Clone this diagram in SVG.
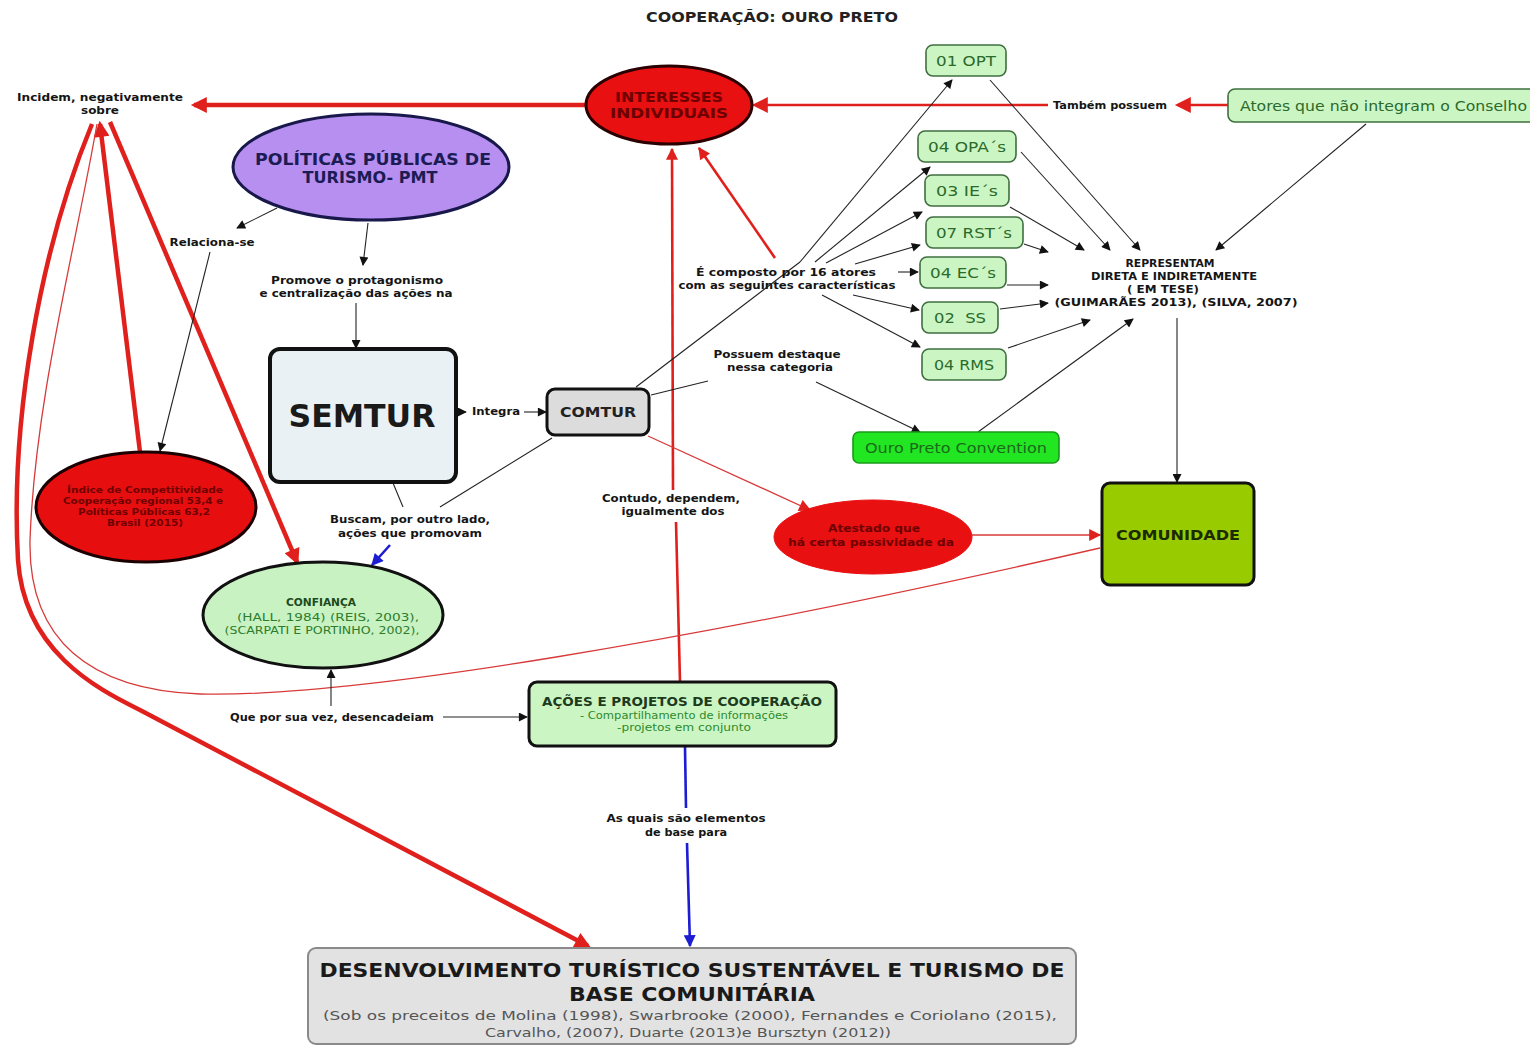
<svg xmlns="http://www.w3.org/2000/svg" width="1530" height="1046" viewBox="0 0 1530 1046">
  <style>
    text { font-family: "DejaVu Sans", Verdana, sans-serif; text-anchor: middle; }
    .lbl { font-size: 10.5px; font-weight: bold; fill: #151515; }
    .title { font-size: 13.5px; font-weight: bold; fill: #222; }
    .redtxt { font-weight: bold; fill: #6e0000; }
    .grn { font-size: 14px; fill: #2a6a2a; }
    .k { stroke: #222; stroke-width: 1.1; fill: none; }
    .r4 { stroke: #e0201c; stroke-width: 4.5; fill: none; }
    .r2 { stroke: #e0201c; stroke-width: 2.6; fill: none; }
    .r1 { stroke: #d83a3a; stroke-width: 1.3; fill: none; }
    .bl { stroke: #1c1cd2; stroke-width: 2.6; fill: none; }
    .gbox { fill: #ccf5c4; stroke: #3f6f3f; stroke-width: 1.6; }
  </style>
  <defs>
    <marker id="ak" viewBox="0 0 10 10" refX="9" refY="5" markerWidth="11" markerHeight="9" markerUnits="userSpaceOnUse" orient="auto">
      <path d="M0,0 L10,5 L0,10 z" fill="#111"/>
    </marker>
    <marker id="ar" viewBox="0 0 10 10" refX="8" refY="5" markerWidth="20" markerHeight="16" markerUnits="userSpaceOnUse" orient="auto">
      <path d="M0,0 L10,5 L0,10 z" fill="#e0201c"/>
    </marker>
    <marker id="ars" viewBox="0 0 10 10" refX="9" refY="5" markerWidth="14" markerHeight="12" markerUnits="userSpaceOnUse" orient="auto">
      <path d="M0,0 L10,5 L0,10 z" fill="#e0201c"/>
    </marker>
    <marker id="ab" viewBox="0 0 10 10" refX="9" refY="5" markerWidth="14" markerHeight="12" markerUnits="userSpaceOnUse" orient="auto">
      <path d="M0,0 L10,5 L0,10 z" fill="#1c1cd2"/>
    </marker>
  </defs>

  <rect width="1530" height="1046" fill="#ffffff"/>

  <text class="title" x="772" y="22" textLength="252" lengthAdjust="spacingAndGlyphs">COOPERAÇÃO: OURO PRETO</text>

  <!-- connectors -->
  <g id="connectors">
    <!-- red links around INTERESSES INDIVIDUAIS -->
    <line class="r4" x1="586" y1="105" x2="194" y2="105" marker-end="url(#ar)"/>
    <line class="r2" x1="1048" y1="105" x2="755" y2="105" marker-end="url(#ar)"/>
    <line class="r2" x1="1228" y1="105" x2="1178" y2="105" marker-end="url(#ar)"/>
    <line class="r2" x1="775" y1="258" x2="699" y2="148" marker-end="url(#ars)"/>
    <line class="r2" x1="680" y1="682" x2="676" y2="522"/>
    <line class="r2" x1="673" y1="490" x2="672" y2="149" marker-end="url(#ars)"/>

    <!-- red links around "Incidem, negativamente sobre" -->
    <line class="r4" x1="140" y1="452" x2="100" y2="124" marker-end="url(#ar)"/>
    <line class="r4" x1="110" y1="122" x2="297" y2="562" marker-end="url(#ar)"/>
    <path class="r4" d="M 92 124 C 40 250, 10 420, 18 560 C 24 650, 95 688, 140 710 L 588 946" marker-end="url(#ar)"/>
    <path class="r1" d="M 97 124 C 75 250, 35 400, 30 540 C 28 640, 90 690, 200 694 C 350 698, 700 640, 1100 548"/>

    <!-- COMTUR / COMUNIDADE red thin links -->
    <line class="r1" x1="648" y1="436" x2="810" y2="510" marker-end="url(#ars)"/>
    <line class="r1" x1="972" y1="535" x2="1100" y2="535" marker-end="url(#ars)"/>

    <!-- PMT and SEMTUR -->
    <line class="k" x1="277" y1="208" x2="237" y2="228" marker-end="url(#ak)"/>
    <line class="k" x1="210" y1="252" x2="160" y2="451" marker-end="url(#ak)"/>
    <line class="k" x1="368" y1="223" x2="363" y2="265" marker-end="url(#ak)"/>
    <line class="k" x1="356" y1="303" x2="356" y2="348" marker-end="url(#ak)"/>
    <line class="k" x1="456" y1="412" x2="466" y2="412" marker-end="url(#ak)"/>
    <line class="k" x1="524" y1="412" x2="546" y2="412" marker-end="url(#ak)"/>

    <!-- COMTUR -->
    <line class="k" x1="636" y1="387" x2="800" y2="262"/>
    <line class="k" x1="651" y1="395" x2="708" y2="381"/>
    <line class="k" x1="816" y1="382" x2="920" y2="432" marker-end="url(#ak)"/>
    <line class="k" x1="552" y1="438" x2="440" y2="507"/>
    <line class="k" x1="393" y1="483" x2="403" y2="507"/>
    <line class="bl" x1="390" y1="545" x2="372" y2="565" marker-end="url(#ab)"/>

    <!-- "É composto por 16 atores" to the actor groups -->
    <line class="k" x1="800" y1="262" x2="952" y2="80" marker-end="url(#ak)"/>
    <line class="k" x1="815" y1="262" x2="930" y2="167" marker-end="url(#ak)"/>
    <line class="k" x1="826" y1="263" x2="922" y2="212" marker-end="url(#ak)"/>
    <line class="k" x1="855" y1="264" x2="920" y2="245" marker-end="url(#ak)"/>
    <line class="k" x1="898" y1="272" x2="918" y2="272" marker-end="url(#ak)"/>
    <line class="k" x1="853" y1="295" x2="919" y2="310" marker-end="url(#ak)"/>
    <line class="k" x1="822" y1="295" x2="920" y2="347" marker-end="url(#ak)"/>

    <!-- actor groups to REPRESENTAM -->
    <line class="k" x1="990" y1="80" x2="1140" y2="250" marker-end="url(#ak)"/>
    <line class="k" x1="1021" y1="152" x2="1110" y2="250" marker-end="url(#ak)"/>
    <line class="k" x1="1010" y1="207" x2="1084" y2="250" marker-end="url(#ak)"/>
    <line class="k" x1="1024" y1="244" x2="1048" y2="252" marker-end="url(#ak)"/>
    <line class="k" x1="1007" y1="285" x2="1048" y2="285" marker-end="url(#ak)"/>
    <line class="k" x1="1000" y1="309" x2="1048" y2="303" marker-end="url(#ak)"/>
    <line class="k" x1="1008" y1="348" x2="1090" y2="320" marker-end="url(#ak)"/>
    <line class="k" x1="978" y1="432" x2="1133" y2="319" marker-end="url(#ak)"/>
    <line class="k" x1="1366" y1="124" x2="1216" y2="250" marker-end="url(#ak)"/>
    <line class="k" x1="1177" y1="318" x2="1177" y2="482" marker-end="url(#ak)"/>

    <!-- AÇÕES E PROJETOS -->
    <line class="k" x1="331" y1="706" x2="331" y2="670" marker-end="url(#ak)"/>
    <line class="k" x1="443" y1="717" x2="527" y2="717" marker-end="url(#ak)"/>
    <line class="bl" x1="685" y1="747" x2="686" y2="808"/>
    <line class="bl" x1="687" y1="843" x2="690" y2="946" marker-end="url(#ab)"/>
  </g>

  <!-- connector labels -->
  <g id="labels">
    <text class="lbl" x="100" y="101" textLength="166" lengthAdjust="spacingAndGlyphs">Incidem, negativamente</text>
    <text class="lbl" x="100" y="114" textLength="38" lengthAdjust="spacingAndGlyphs">sobre</text>
    <text class="lbl" x="212" y="246" textLength="85" lengthAdjust="spacingAndGlyphs">Relaciona-se</text>
    <text class="lbl" x="357" y="284" textLength="172" lengthAdjust="spacingAndGlyphs">Promove o protagonismo</text>
    <text class="lbl" x="356" y="297" textLength="193" lengthAdjust="spacingAndGlyphs">e centralização das ações na</text>
    <text class="lbl" x="496" y="415" textLength="48" lengthAdjust="spacingAndGlyphs">Integra</text>
    <text class="lbl" x="777" y="358" textLength="127" lengthAdjust="spacingAndGlyphs">Possuem destaque</text>
    <text class="lbl" x="780" y="371" textLength="106" lengthAdjust="spacingAndGlyphs">nessa categoria</text>
    <text class="lbl" x="410" y="523" textLength="160" lengthAdjust="spacingAndGlyphs">Buscam, por outro lado,</text>
    <text class="lbl" x="410" y="537" textLength="144" lengthAdjust="spacingAndGlyphs">ações que promovam</text>
    <text class="lbl" x="671" y="502" textLength="138" lengthAdjust="spacingAndGlyphs">Contudo, dependem,</text>
    <text class="lbl" x="673" y="515" textLength="103" lengthAdjust="spacingAndGlyphs">igualmente dos</text>
    <text class="lbl" x="786" y="276" textLength="180" lengthAdjust="spacingAndGlyphs">É composto por 16  atores</text>
    <text class="lbl" x="787" y="289" textLength="217" lengthAdjust="spacingAndGlyphs">com as seguintes características</text>
    <text class="lbl" x="1110" y="109" textLength="114" lengthAdjust="spacingAndGlyphs">Também possuem</text>
    <text class="lbl" x="1170" y="267" textLength="89" lengthAdjust="spacingAndGlyphs">REPRESENTAM</text>
    <text class="lbl" x="1174" y="280" textLength="166" lengthAdjust="spacingAndGlyphs">DIRETA E INDIRETAMENTE</text>
    <text class="lbl" x="1163" y="293" textLength="72" lengthAdjust="spacingAndGlyphs">( EM TESE)</text>
    <text class="lbl" x="1176" y="306" textLength="243" lengthAdjust="spacingAndGlyphs">(GUIMARÃES 2013), (SILVA, 2007)</text>
    <text class="lbl" x="332" y="721" textLength="204" lengthAdjust="spacingAndGlyphs">Que por sua vez, desencadeiam</text>
    <text class="lbl" x="686" y="822" textLength="159" lengthAdjust="spacingAndGlyphs">As quais são elementos</text>
    <text class="lbl" x="686" y="836" textLength="82" lengthAdjust="spacingAndGlyphs">de base para</text>
  </g>

  <!-- nodes -->
  <g id="interesses">
    <ellipse cx="669" cy="105" rx="83" ry="39" fill="#e81010" stroke="#2a0000" stroke-width="3"/>
    <text class="redtxt" x="669" y="102" font-size="14" textLength="108" lengthAdjust="spacingAndGlyphs">INTERESSES</text>
    <text class="redtxt" x="669" y="118" font-size="14" textLength="118" lengthAdjust="spacingAndGlyphs">INDIVIDUAIS</text>
  </g>

  <g id="pmt">
    <ellipse cx="371" cy="167" rx="138" ry="53" fill="#b68ff0" stroke="#18184a" stroke-width="3"/>
    <text x="373" y="165" font-size="15" font-weight="bold" fill="#1c1c55" textLength="236" lengthAdjust="spacingAndGlyphs">POLÍTICAS PÚBLICAS DE</text>
    <text x="370" y="183" font-size="15" font-weight="bold" fill="#1c1c55" textLength="135" lengthAdjust="spacingAndGlyphs">TURISMO- PMT</text>
  </g>

  <g id="semtur">
    <rect x="270" y="349" width="186" height="133" rx="10" fill="#e9f1f5" stroke="#111" stroke-width="4"/>
    <text x="362" y="427" font-size="32" font-weight="bold" fill="#1a1a1a" textLength="147" lengthAdjust="spacingAndGlyphs">SEMTUR</text>
  </g>

  <g id="comtur">
    <rect x="547" y="389" width="102" height="46" rx="8" fill="#dcdcdc" stroke="#111" stroke-width="3"/>
    <text x="598" y="417" font-size="14.5" font-weight="bold" fill="#222" textLength="76" lengthAdjust="spacingAndGlyphs">COMTUR</text>
  </g>

  <g id="indice">
    <ellipse cx="146" cy="507" rx="110" ry="55" fill="#e60e0e" stroke="#1a0000" stroke-width="3"/>
    <text class="redtxt" x="145" y="493" font-size="9.5" textLength="156" lengthAdjust="spacingAndGlyphs">Índice de Competitividade</text>
    <text class="redtxt" x="143" y="504" font-size="9.5" textLength="160" lengthAdjust="spacingAndGlyphs">Cooperação regional 53,4 e</text>
    <text class="redtxt" x="144" y="515" font-size="9.5" textLength="132" lengthAdjust="spacingAndGlyphs">Políticas Públicas 63,2</text>
    <text class="redtxt" x="145" y="526" font-size="9.5" textLength="76" lengthAdjust="spacingAndGlyphs">Brasil (2015)</text>
  </g>

  <g id="confianca">
    <ellipse cx="323" cy="615" rx="120" ry="53" fill="#c8f2c2" stroke="#111" stroke-width="3"/>
    <text x="321" y="606" font-size="11" font-weight="bold" fill="#1c4a1c" textLength="70" lengthAdjust="spacingAndGlyphs">CONFIANÇA</text>
    <text x="328" y="621" font-size="11" fill="#2d7d2d" textLength="182" lengthAdjust="spacingAndGlyphs">(HALL, 1984) (REIS, 2003),</text>
    <text x="322" y="634" font-size="11" fill="#2d7d2d" textLength="195" lengthAdjust="spacingAndGlyphs">(SCARPATI E PORTINHO, 2002),</text>
  </g>

  <g id="acoes">
    <rect x="529" y="682" width="307" height="64" rx="8" fill="#ccf5c4" stroke="#111" stroke-width="3"/>
    <text x="682" y="706" font-size="12.5" font-weight="bold" fill="#1c3a1c" textLength="280" lengthAdjust="spacingAndGlyphs">AÇÕES E PROJETOS DE COOPERAÇÃO</text>
    <text x="684" y="719" font-size="11" fill="#2d8a2d" textLength="208" lengthAdjust="spacingAndGlyphs">- Compartilhamento de informações</text>
    <text x="684" y="731" font-size="11" fill="#2d8a2d" textLength="134" lengthAdjust="spacingAndGlyphs">-projetos em conjunto</text>
  </g>

  <g id="abstraido">
    <ellipse cx="873" cy="537" rx="99" ry="37" fill="#e81010" stroke="#e81010" stroke-width="1"/>
    <text class="redtxt" x="874" y="532" font-size="10.5" textLength="92" lengthAdjust="spacingAndGlyphs">Atestado que</text>
    <text class="redtxt" x="871" y="546" font-size="10.5" textLength="166" lengthAdjust="spacingAndGlyphs">há certa passividade da</text>
  </g>

  <g id="comunidade">
    <rect x="1102" y="483" width="152" height="102" rx="8" fill="#99cc00" stroke="#111" stroke-width="3"/>
    <text x="1178" y="540" font-size="14" font-weight="bold" fill="#1c2a00" textLength="124" lengthAdjust="spacingAndGlyphs">COMUNIDADE</text>
  </g>

  <g id="opt01">
    <rect class="gbox" x="926" y="45" width="80" height="31" rx="7"/>
    <text class="grn" x="966" y="66" textLength="60" lengthAdjust="spacingAndGlyphs">01 OPT</text>
  </g>
  <g id="opa04">
    <rect class="gbox" x="918" y="131" width="98" height="31" rx="7"/>
    <text class="grn" x="967" y="152" textLength="78" lengthAdjust="spacingAndGlyphs">04 OPA´s</text>
  </g>
  <g id="ie03">
    <rect class="gbox" x="925" y="175" width="84" height="31" rx="7"/>
    <text class="grn" x="967" y="196" textLength="62" lengthAdjust="spacingAndGlyphs">03 IE´s</text>
  </g>
  <g id="rst07">
    <rect class="gbox" x="926" y="217" width="97" height="31" rx="7"/>
    <text class="grn" x="974" y="238" textLength="76" lengthAdjust="spacingAndGlyphs">07 RST´s</text>
  </g>
  <g id="ec04">
    <rect class="gbox" x="920" y="257" width="86" height="31" rx="7"/>
    <text class="grn" x="963" y="278" textLength="66" lengthAdjust="spacingAndGlyphs">04 EC´s</text>
  </g>
  <g id="ss02">
    <rect class="gbox" x="922" y="302" width="76" height="31" rx="7"/>
    <text class="grn" x="960" y="323" xml:space="preserve" textLength="52" lengthAdjust="spacingAndGlyphs">02  SS</text>
  </g>
  <g id="rms04">
    <rect class="gbox" x="922" y="349" width="84" height="31" rx="7"/>
    <text class="grn" x="964" y="370" textLength="60" lengthAdjust="spacingAndGlyphs">04 RMS</text>
  </g>

  <g id="convention">
    <rect x="853" y="432" width="206" height="31" rx="6" fill="#22e622" stroke="#1a9a1a" stroke-width="1.6"/>
    <text x="956" y="453" font-size="14" fill="#1a6a1a" textLength="182" lengthAdjust="spacingAndGlyphs">Ouro Preto Convention</text>
  </g>

  <g id="atores">
    <rect class="gbox" x="1228" y="89" width="320" height="33" rx="7"/>
    <text class="grn" x="1240" y="111" style="text-anchor:start" textLength="287" lengthAdjust="spacingAndGlyphs">Atores que não integram o Conselho</text>
  </g>

  <g id="desenvolvimento">
    <rect x="308" y="948" width="768" height="96" rx="8" fill="#e2e2e2" stroke="#8a8a8a" stroke-width="2"/>
    <text x="692" y="977" font-size="20" font-weight="bold" fill="#1a1a1a" textLength="745" lengthAdjust="spacingAndGlyphs">DESENVOLVIMENTO TURÍSTICO SUSTENTÁVEL E TURISMO DE</text>
    <text x="692" y="1001" font-size="20" font-weight="bold" fill="#1a1a1a" textLength="246" lengthAdjust="spacingAndGlyphs">BASE COMUNITÁRIA</text>
    <text x="690" y="1020" font-size="13" fill="#555" textLength="734" lengthAdjust="spacingAndGlyphs">(Sob os preceitos de Molina (1998), Swarbrooke (2000), Fernandes e Coriolano (2015),</text>
    <text x="688" y="1037" font-size="13" fill="#555" textLength="406" lengthAdjust="spacingAndGlyphs">Carvalho, (2007), Duarte (2013)e Bursztyn (2012))</text>
  </g>
</svg>
